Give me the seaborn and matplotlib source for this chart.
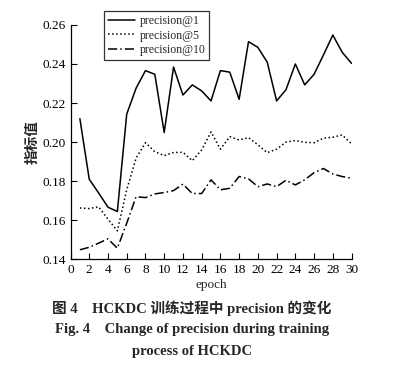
import numpy as np
import pandas as pd
import matplotlib
matplotlib.use('Agg')
import matplotlib.pyplot as plt
import seaborn as sns

# 数据
epochs = list(range(1, 31))
p1 = [0.212, 0.181, 0.174, 0.1667, 0.1645, 0.2143, 0.2276, 0.2366, 0.2347, 0.2049,
      0.2384, 0.2241, 0.2293, 0.2262, 0.2211, 0.2366, 0.2358, 0.2219, 0.2514, 0.2485,
      0.2409, 0.2211, 0.2268, 0.2400, 0.2293, 0.2347, 0.2446, 0.2548, 0.2460, 0.2403]
p5 = [0.1663, 0.1660, 0.1669, 0.1606, 0.1546, 0.1756, 0.1918, 0.1997, 0.1951, 0.1931,
      0.1947, 0.1948, 0.1905, 0.1960, 0.2052, 0.1964, 0.2028, 0.2011, 0.2023, 0.1986,
      0.1946, 0.1964, 0.2000, 0.2008, 0.1999, 0.1997, 0.2020, 0.2025, 0.2037, 0.1991]
p10 = [0.1449, 0.1462, 0.1483, 0.1505, 0.1457, 0.1585, 0.1721, 0.1716, 0.1735, 0.1742,
       0.1752, 0.1785, 0.1737, 0.1737, 0.1807, 0.1756, 0.1764, 0.1824, 0.1812, 0.1772,
       0.1786, 0.1772, 0.1805, 0.1781, 0.1807, 0.1844, 0.1865, 0.1837, 0.1824, 0.1815]
names = ['precision@1', 'precision@5', 'precision@10']
x_ticks = list(range(0, 31, 2))
y_ticks = [0.14, 0.16, 0.18, 0.20, 0.22, 0.24, 0.26]

sns.set_style('ticks')
plt.rcParams['font.family'] = ['Liberation Serif', 'Noto Sans CJK SC']
plt.rcParams['axes.unicode_minus'] = False

fig = plt.figure(figsize=(3.95, 3.77), dpi=100)
ax = fig.add_axes([0.1785, 0.312, 0.7115, 0.622])

styles = ['-', ':', (0, (6, 2, 1, 2))]
for name, vals, ls in zip(names, [p1, p5, p10], styles):
    df = pd.DataFrame({'epoch': epochs, 'value': vals})
    sns.lineplot(data=df, x='epoch', y='value', ax=ax, color='black',
                 linewidth=1.1, linestyle=ls, label=name)

ax.set_xlim(0, 30)
ax.set_ylim(0.14, 0.26)
ax.set_xticks(x_ticks)
ax.set_yticks(y_ticks)
ax.set_yticklabels([f'{v:.2f}' for v in y_ticks])
ax.tick_params(direction='in', length=4, width=0.8, labelsize=9.5, colors='black')
for side in ['left', 'bottom']:
    ax.spines[side].set_linewidth(0.9)
    ax.spines[side].set_color('black')
sns.despine(ax=ax)

ax.set_xlabel('epoch', fontsize=9.5, labelpad=2)
ax.set_ylabel('指标值', fontsize=10.5, fontweight='bold', labelpad=2,
              family=['Noto Sans CJK SC'])

leg = ax.legend(loc='upper left', bbox_to_anchor=(0.119, 1.06), fontsize=8.5,
                frameon=True, fancybox=False, edgecolor='black',
                handlelength=2.3, borderpad=0.35, labelspacing=0.22,
                handletextpad=0.35, borderaxespad=0)
leg.get_frame().set_linewidth(0.9)

fig.text(0.485, 1 - 308 / 377, '图 4    HCKDC 训练过程中 precision 的变化',
         ha='center', va='center', fontsize=10.5, fontweight='bold',
         family=['Liberation Serif', 'Noto Sans CJK SC'])
fig.text(0.485, 1 - 330 / 377, 'Fig. 4    Change of precision during training',
         ha='center', va='center', fontsize=10.5, fontweight='bold')
fig.text(0.485, 1 - 351 / 377, 'process of HCKDC',
         ha='center', va='center', fontsize=10.5, fontweight='bold')

fig.savefig('out.png', dpi=100)
